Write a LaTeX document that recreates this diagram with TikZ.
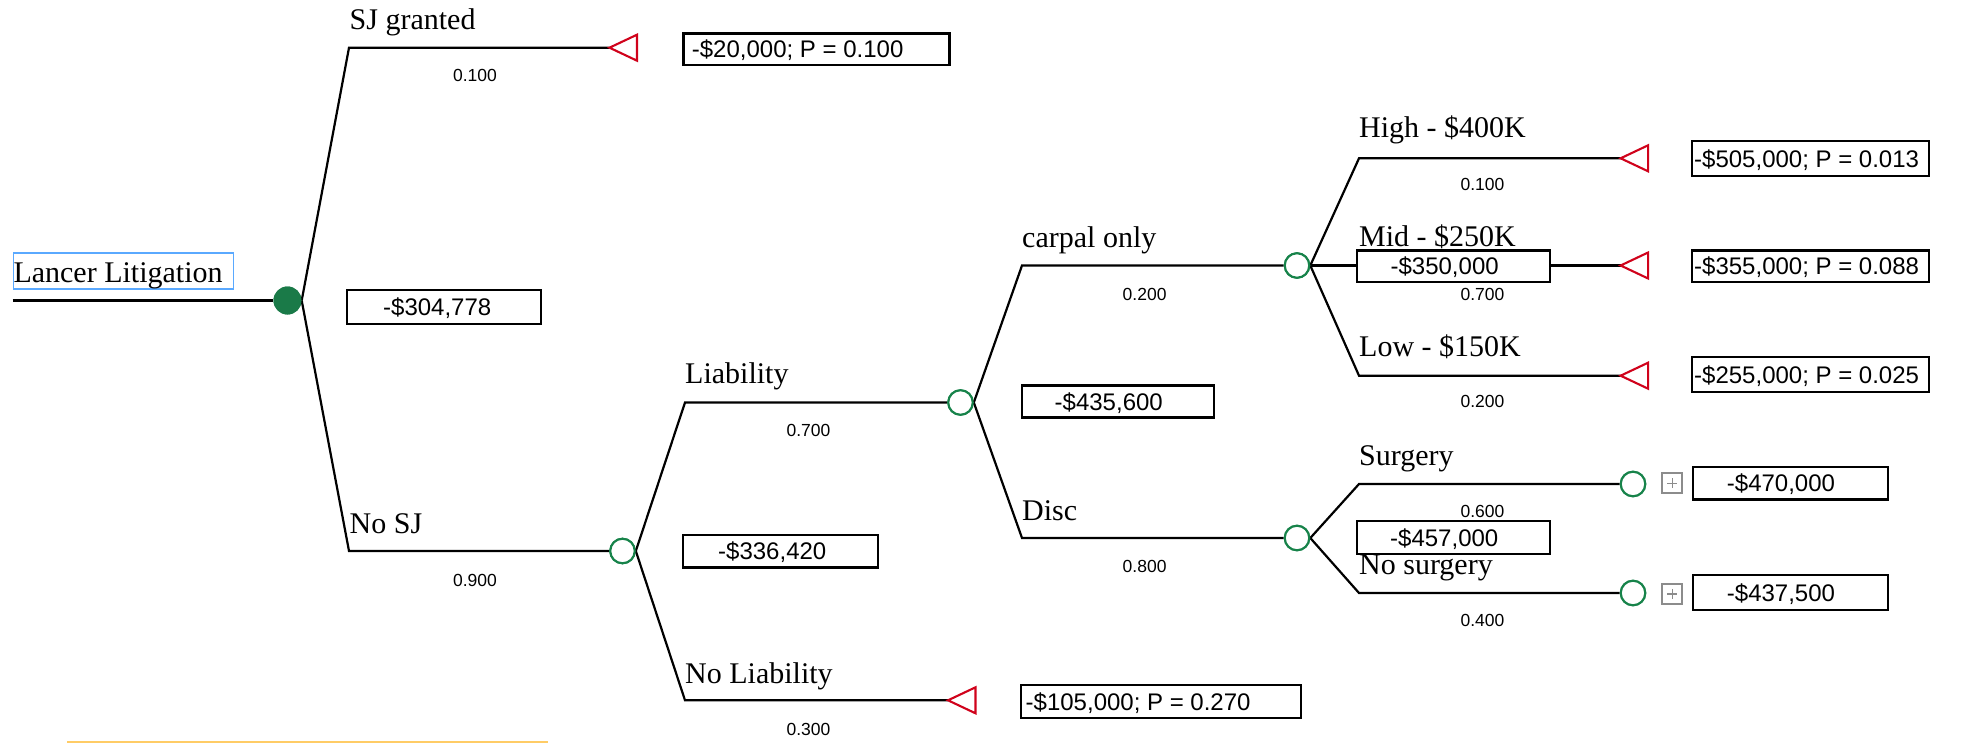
\documentclass[tikz,border=0pt]{standalone}
\usepackage{fontspec}
\setmainfont{Liberation Serif}
\newfontfamily\numfont{Liberation Sans}
\usetikzlibrary{calc}
\definecolor{tgreen}{HTML}{17834A}
\definecolor{rootgreen}{HTML}{1A7A48}
\definecolor{tred}{HTML}{D0021B}
\definecolor{lblue}{HTML}{5AA9FF}
\definecolor{lorange}{HTML}{FFCC66}
\definecolor{pgray}{HTML}{8C8C8C}
\tikzset{
  branch/.style={line width=2.2pt, black, line join=miter},
  chance/.style={circle, draw=tgreen, line width=2.1pt, fill=white, minimum size=24.5pt, inner sep=0pt},
  rootnode/.style={circle, fill=rootgreen, minimum size=28pt, inner sep=0pt},
  term/.style={draw=tred, line width=2.1pt, fill=white, line join=miter},
  lbl/.style={anchor=base west, inner sep=0pt, font=\fontsize{30}{36}\selectfont},
  prob/.style={anchor=center, inner sep=0pt, font=\numfont\fontsize{17.5}{21}\selectfont},
  frame/.style={draw=black, line width=2.4pt, fill=white, anchor=north west, inner sep=0pt},
  vtext/.style={anchor=base west, inner sep=0pt, font=\numfont\fontsize{24}{29}\selectfont},
  plusbox/.style={draw=pgray, line width=1.8pt, fill=white, minimum size=20pt, inner sep=0pt},
  plusmark/.style={draw=pgray, line width=1.4pt}
}
\newcommand\valbox[7]{%
  \node[frame, minimum width=#4pt, minimum height=#5pt] (#1) at (#2,#3) {};
  \node[vtext] (#1t) at ($(#1.west)+(#6,8.6)$) {#7};}
\begin{document}
\begin{tikzpicture}[x=1pt,y=-1pt]
\useasboundingbox (0,0) rectangle (1972,743);

% decision / chance nodes
\node[rootnode] (root) at (287.5,300.5) {};
\node[chance] (c1) at (622.5,551) {};
\node[chance] (c2) at (960.5,402.5) {};
\node[chance] (c3) at (1297,265.5) {};
\node[chance] (c4) at (1297,538) {};
\node[chance] (c5) at (1633,484) {};
\node[chance] (c6) at (1633,593) {};

% start and terminal tips
\coordinate (start) at (12.5,300.5);
\coordinate (t1) at (609.5,47.7);
\coordinate (t2) at (948,700.3);
\coordinate (t3) at (1620.6,158.3);
\coordinate (t4) at (1620.6,265.5);
\coordinate (t5) at (1620.6,375.7);

% corners
\coordinate (k1) at (349,47.7);
\coordinate (k2) at (349,551);
\coordinate (k3) at (685,402.5);
\coordinate (k4) at (685,700.3);
\coordinate (k5) at (1022,265.5);
\coordinate (k6) at (1022,538);
\coordinate (k7) at (1359,158.3);
\coordinate (k9) at (1359,375.7);
\coordinate (k10) at (1359,484);
\coordinate (k11) at (1359,593);

% branches
\draw[branch] (start) -- (root.west);
\draw[branch] (root.east) -- (k1) -- (t1);
\draw[branch] (root.east) -- (k2) -- (c1.west);
\draw[branch] (c1.east) -- (k3) -- (c2.west);
\draw[branch] (c1.east) -- (k4) -- (t2);
\draw[branch] (c2.east) -- (k5) -- (c3.west);
\draw[branch] (c2.east) -- (k6) -- (c4.west);
\draw[branch] (c3.east) -- (k7) -- (t3);
\draw[branch] (c3.east) -- (t4);
\draw[branch] (c3.east) -- (k9) -- (t5);
\draw[branch] (c4.east) -- (k10) -- (c5.west);
\draw[branch] (c4.east) -- (k11) -- (c6.west);

% redraw nodes on top
\node[rootnode] at (root) {};
\node[chance] at (c1) {};
\node[chance] at (c2) {};
\node[chance] at (c3) {};
\node[chance] at (c4) {};
\node[chance] at (c5) {};
\node[chance] at (c6) {};

% terminal triangles
\foreach \t in {t1,t2,t3,t4,t5}{
  \draw[term] (\t) -- ++(27.5,-13) -- ++(0,26) -- cycle;
}

% title box
\node[frame, draw=lblue, line width=1.5pt, minimum width=220pt, minimum height=36pt] (titlebox) at (12.7,252.3) {};
\node[lbl] (title) at (13.3,282.5) {Lancer Litigation};

% branch labels
\node[lbl] (lsj) at (349.5,29.3) {SJ granted};
\node[lbl] (lnosj) at (349.5,533) {No SJ};
\node[lbl] (lliab) at (685,383.5) {Liability};
\node[lbl] (lnoliab) at (685,683) {No Liability};
\node[lbl] (lcarpal) at (1022,247.8) {carpal only};
\node[lbl] (ldisc) at (1022,520) {Disc};
\node[lbl] (lhigh) at (1359,137.3) {High - \$400K};
\node[lbl] (lmid) at (1359,246.7) {Mid - \$250K};
\node[lbl] (llow) at (1359,356) {Low - \$150K};
\node[lbl] (lsurg) at (1359,465) {Surgery};
\node[lbl] (lnosurg) at (1359,574) {No surgery};

% probabilities
\node[prob] (p1) at (475,75.7) {0.100};
\node[prob] (p2) at (475,580) {0.900};
\node[prob] (p3) at (808.5,430) {0.700};
\node[prob] (p4) at (808.5,729.8) {0.300};
\node[prob] (p5) at (1144.6,294) {0.200};
\node[prob] (p6) at (1144.6,566) {0.800};
\node[prob] (p7) at (1482.5,184) {0.100};
\node[prob] (p8) at (1482.5,294) {0.700};
\node[prob] (p9) at (1482.5,401.7) {0.200};
\node[prob] (p10) at (1482.5,511.7) {0.600};
\node[prob] (p11) at (1482.5,620) {0.400};

% value boxes
\valbox{bsj}{682.3}{32.3}{266}{31.7}{9.4}{-\$20,000; P = 0.100}
\valbox{b0}{346}{288.5}{193.5}{34.5}{37}{-\$304,778}
\valbox{b1}{682}{534}{195}{32.3}{36}{-\$336,420}
\valbox{bnl}{1020}{684}{280}{32.7}{5.5}{-\$105,000; P = 0.270}
\valbox{b2}{1020.5}{384.2}{192}{32.2}{34}{-\$435,600}
\valbox{b3}{1356}{249.3}{193}{31.4}{34.4}{-\$350,000}
\valbox{b4}{1356}{520}{193}{32.7}{34}{-\$457,000}
\valbox{r1}{1691}{140}{237}{35}{3}{-\$505,000; P = 0.013}
\valbox{r2}{1691}{249.3}{237}{31.4}{3}{-\$355,000; P = 0.088}
\valbox{r3}{1691}{356}{237}{34.7}{3}{-\$255,000; P = 0.025}
\valbox{r4}{1691.7}{466}{195}{32.3}{35}{-\$470,000}
\valbox{r5}{1691.7}{574}{195}{35}{35}{-\$437,500}

% collapsed-subtree markers
\node[plusbox] (pl1) at (1672.2,483.3) {};
\node[plusbox] (pl2) at (1672.2,593.8) {};
\foreach \p in {pl1,pl2}{
  \draw[plusmark] (\p.center) ++(-5,0) -- ++(10,0);
  \draw[plusmark] (\p.center) ++(0,-5) -- ++(0,10);
}

% orange rule at bottom
\draw[lorange, line width=2.5pt] (67,742) -- (548,742);
\end{tikzpicture}
\end{document}
